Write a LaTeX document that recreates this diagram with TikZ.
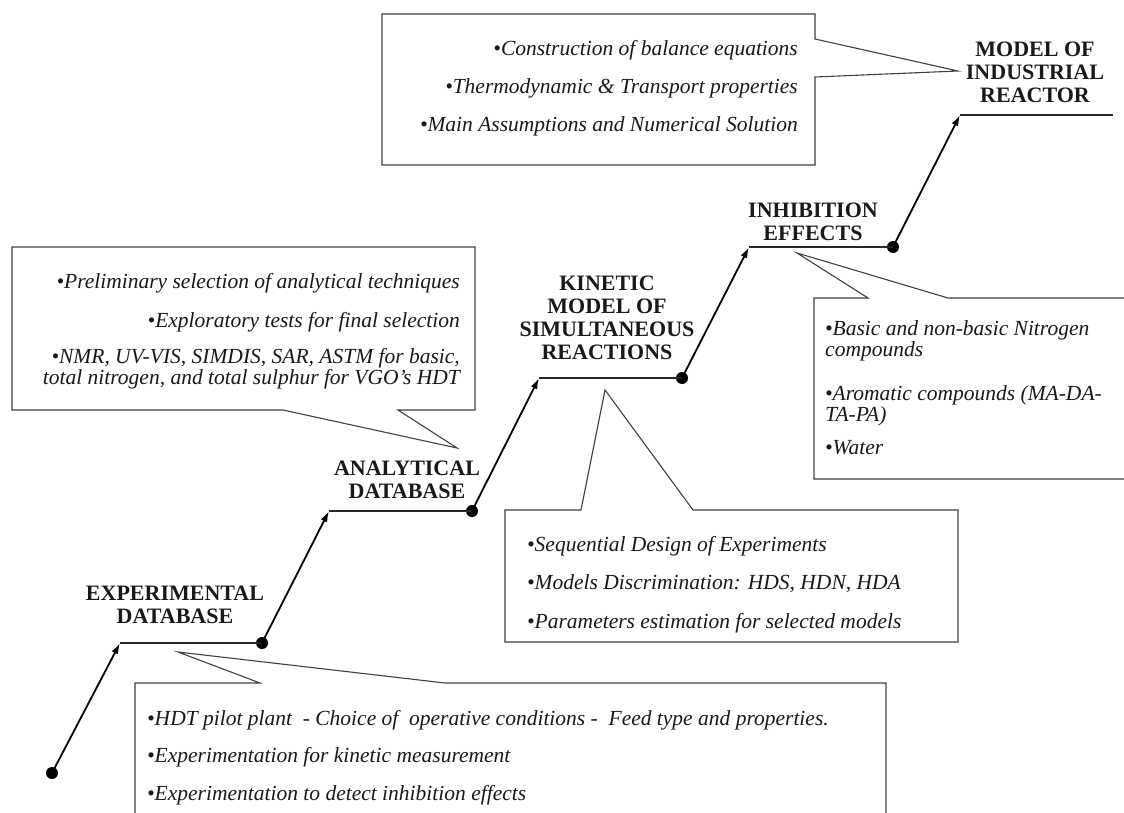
\documentclass[tikz,border=0pt]{standalone}
\usepackage{fontspec}
\setmainfont{Liberation Serif}
\usetikzlibrary{arrows.meta}
\begin{document}
\begin{tikzpicture}[x=1pt,y=-1pt,
  stepline/.style={line width=1.6pt, draw=black!85},
  steparrow/.style={line width=1.8pt, draw=black, -{Latex[length=11pt,width=7pt]}},
  callout/.style={line width=1.1pt, draw=black!75, fill=white, line join=miter},
  title/.style={font=\bfseries\fontsize{22}{23}\selectfont, align=center, inner sep=0pt, text=black!90},
  item/.style={font=\itshape\fontsize{21.5}{21}\selectfont, inner sep=0pt, text=black!90},
  dot/.style={circle, fill=black, inner sep=0pt, minimum size=12pt}]
\useasboundingbox (0,0) rectangle (1124,813);

% callout shapes
\draw[callout] (382,14) -- (815,14) -- (815,39) -- (958,71) -- (815,77) -- (815,165) -- (382,165) -- cycle;
\draw[callout] (12,247) -- (475,247) -- (475,410) -- (398,410) -- (457,448) -- (283,410) -- (12,410) -- cycle;
\draw[callout] (505,510) -- (581,510) -- (605,390) -- (693,510) -- (958,510) -- (958,642) -- (505,642) -- cycle;
\fill[white] (814,298) -- (868,298) -- (797,253) -- (948,298) -- (1124,298) -- (1124,479) -- (814,479) -- cycle;
\draw[callout, fill=none] (1124,298) -- (948,298) -- (797,253) -- (868,298) -- (814,298) -- (814,479) -- (1124,479);
\draw[callout, fill=none] (135,813) -- (135,683) -- (260,683) -- (178,652) -- (445,683) -- (886,683) -- (886,813);

% staircase
\node[dot] (d0) at (52,773) {};
\coordinate (a1) at (120,643);
\node[dot] (d1) at (262,643) {};
\coordinate (a2) at (329,511);
\node[dot] (d2) at (472,511) {};
\coordinate (a3) at (539,378);
\node[dot] (d3) at (682,378) {};
\coordinate (a4) at (749,247);
\node[dot] (d4) at (893,247) {};
\coordinate (a5) at (960,115);
\coordinate (e5) at (1113,115);

\draw[steparrow] (d0.center) -- (a1);
\draw[stepline] (a1) -- (d1.center);
\draw[steparrow] (d1.center) -- (a2);
\draw[stepline] (a2) -- (d2.center);
\draw[steparrow] (d2.center) -- (a3);
\draw[stepline] (a3) -- (d3.center);
\draw[steparrow] (d3.center) -- (a4);
\draw[stepline] (a4) -- (d4.center);
\draw[steparrow] (d4.center) -- (a5);
\draw[stepline] (a5) -- (e5);

% titles
\node[title] (t1) at (175,605) {EXPERIMENTAL\\DATABASE};
\node[title] (t2) at (407,480) {ANALYTICAL\\DATABASE};
\node[title] (t3) at (607,318) {KINETIC\\MODEL OF\\SIMULTANEOUS\\REACTIONS};
\node[title] (t4) at (813,222) {INHIBITION\\EFFECTS};
\node[title] (t5) at (1035,72) {MODEL OF\\INDUSTRIAL\\REACTOR};

% top box items
\node[item, anchor=east] (m1) at (798,50) {•Construction of balance equations};
\node[item, anchor=east] (m2) at (798,88) {•Thermodynamic \& Transport properties};
\node[item, anchor=east] (m3) at (798,126) {•Main Assumptions and Numerical Solution};

% analytical box items
\node[item, anchor=east] (n1) at (460,283) {•Preliminary selection of analytical techniques};
\node[item, anchor=east] (n2) at (460,322) {•Exploratory tests for final selection};
\node[item, anchor=east, align=right, font=\itshape\fontsize{21.5}{18}\selectfont] (n3) at (460,369) {•NMR, UV-VIS, SIMDIS, SAR, ASTM for basic,\\total nitrogen, and total sulphur for VGO’s HDT};

% kinetic box items
\node[item, anchor=west] (k1) at (527,546) {•Sequential Design of Experiments};
\node[item, anchor=west] (k2) at (527,584) {•Models Discrimination: HDS, HDN, HDA};
\node[item, anchor=west] (k3) at (527,623) {•Parameters estimation for selected models};

% inhibition box items
\node[item, anchor=west, align=left] (i1) at (825,341) {•Basic and non-basic Nitrogen\\compounds};
\node[item, anchor=west, align=left] (i2) at (825,406) {•Aromatic compounds (MA-DA-\\TA-PA)};
\node[item, anchor=west] (i3) at (825,448) {•Water};

% experimental box items
\node[item, anchor=west] (x1) at (147,720) {•HDT pilot plant \ - Choice of \ operative conditions - \ Feed type and properties.};
\node[item, anchor=west] (x2) at (147,757) {•Experimentation for kinetic measurement};
\node[item, anchor=west] (x3) at (147,795) {•Experimentation to detect inhibition effects};
\end{tikzpicture}
\end{document}
